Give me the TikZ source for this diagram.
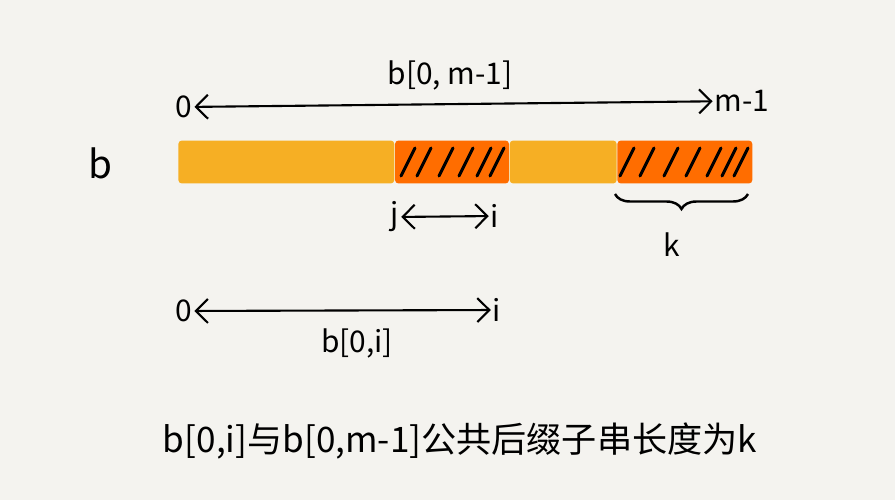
\documentclass[tikz,border=0pt]{standalone}
\usepackage{fontspec}
\setmainfont{Noto Sans CJK SC}
\usetikzlibrary{arrows.meta, positioning, decorations.pathreplacing}
\definecolor{paper}{HTML}{F4F3EF}
\definecolor{barYellow}{HTML}{F6AF24}
\definecolor{barOrange}{HTML}{FF6D00}

\begin{document}
\begin{tikzpicture}[
	x=0.02cm, y=-0.02cm,
	seg/.style={rounded corners=2pt, minimum height=0.86cm, inner sep=0pt},
	lbl/.style={font=\fontsize{17}{20}\selectfont, inner sep=1pt},
	span/.style={{Straight Barb[length=2.4mm]}-{Straight Barb[length=2.4mm]}, line width=1.2pt},
	hatch/.style={line width=1.7pt, line cap=round}
]
\fill[paper] (0,0) rectangle (895,500);
\useasboundingbox (0,0) rectangle (895,500);

\node[font=\fontsize{22}{26}\selectfont] (name) at (100,163) {b};

% the array b
\node[seg, fill=barYellow, minimum width=4.32cm, anchor=west] (seg1) at (178,162) {};
\node[seg, fill=barOrange, minimum width=2.28cm, right=0pt of seg1] (seg2) {};
\node[seg, fill=barYellow, minimum width=2.14cm, right=0pt of seg2] (seg3) {};
\node[seg, fill=barOrange, minimum width=2.70cm, right=0pt of seg3] (seg4) {};
\foreach \x in {408,424,446,466,484,497}
	\draw[hatch] (\x-7,176) -- (\x+7,148);
\foreach \x in {627,647,671,693,714,729,741}
	\draw[hatch] (\x-7,176) -- (\x+7,148);

% whole array
\node[lbl] (zeroTop) at (184,107) {0};
\node[lbl] (mTop) at (742,101) {m-1};
\node[lbl] (whole) at (450,75) {b[0, m-1]};
\draw[span] (zeroTop) -- (mTop);

% suffix of b[0,i]
\node[lbl] (jSub) at (395,217) {j};
\node[lbl] (iSub) at (495,216) {i};
\draw[span] (jSub) -- (iSub);

% common suffix of length k
\coordinate (braceL) at (615,194);
\coordinate (braceR) at (748,194);
\draw[line width=1.4pt, decorate, decoration={brace, mirror, amplitude=0.3cm}] (braceL) -- (braceR);
\node[lbl] (kLen) at (672,245) {k};

% prefix b[0,i]
\node[lbl] (zeroLow) at (184,311) {0};
\node[lbl] (iLow) at (497,310) {i};
\node[lbl] (prefix) at (357,343) {b[0,i]};
\draw[span] (zeroLow) -- (iLow);

\node[font=\fontsize{20}{24}\selectfont] (note) at (460,441) {b[0,i]与b[0,m-1]公共后缀子串长度为k};
\end{tikzpicture}
\end{document}
